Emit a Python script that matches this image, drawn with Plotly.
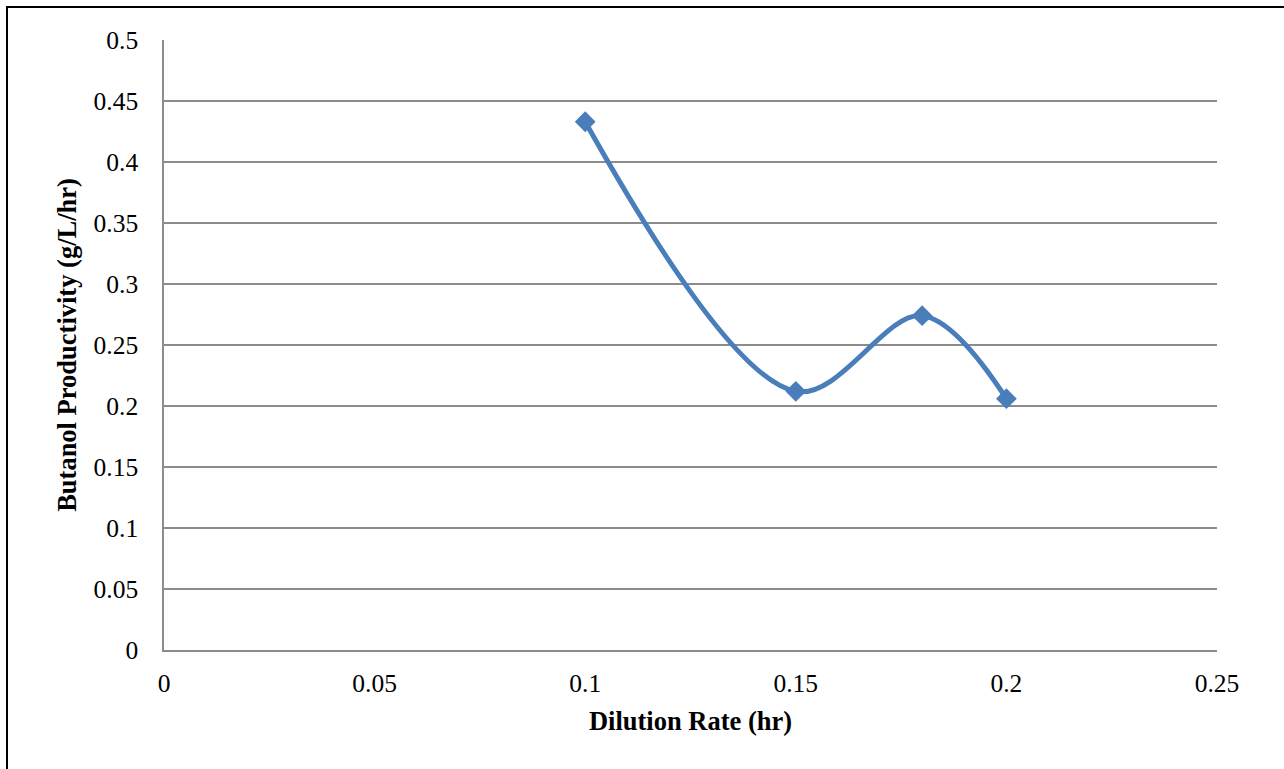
import plotly.graph_objects as go

dilution_rate = [0.1, 0.15, 0.18, 0.2]
butanol_productivity = [0.433, 0.212, 0.274, 0.206]

x_ticks = [0, 0.05, 0.1, 0.15, 0.2, 0.25]
x_tick_labels = ["0", "0.05", "0.1", "0.15", "0.2", "0.25"]
y_ticks = [0, 0.05, 0.1, 0.15, 0.2, 0.25, 0.3, 0.35, 0.4, 0.45, 0.5]
y_tick_labels = ["0", "0.05", "0.1", "0.15", "0.2", "0.25", "0.3", "0.35", "0.4", "0.45", "0.5"]

W, H = 1284, 769
L, R, T, B = 164, 67, 40, 119
pw, ph = W - L - R, H - T - B

LINE_BLUE = "#4A7EBB"
GRID = "#8C8C8C"
FONT = "Liberation Serif, Times New Roman, serif"

fig = go.Figure()
fig.add_trace(go.Scatter(
    x=dilution_rate, y=butanol_productivity,
    mode="lines+markers",
    line=dict(color=LINE_BLUE, width=5, shape="spline", smoothing=1),
    marker=dict(symbol="diamond", size=16, color=LINE_BLUE),
    showlegend=False,
))

fig.update_layout(
    width=W, height=H,
    margin=dict(l=L, r=R, t=T, b=B),
    paper_bgcolor="white", plot_bgcolor="white",
    font=dict(family=FONT, color="black", size=25.5),
    xaxis=dict(
        range=[0, 0.25], tickvals=x_ticks, ticktext=x_tick_labels,
        showgrid=False, zeroline=False,
        showline=True, linecolor=GRID, linewidth=1.5,
        ticks="outside", ticklen=10, tickcolor="rgba(0,0,0,0)",
        tickfont=dict(size=25.5, family=FONT),
        title=dict(text="<b>Dilution Rate (hr)</b>", font=dict(size=26.5, family=FONT), standoff=14),
    ),
    yaxis=dict(
        range=[0, 0.5], tickvals=y_ticks, ticktext=y_tick_labels,
        showgrid=True, gridcolor=GRID, gridwidth=1.5, zeroline=False,
        showline=True, linecolor=GRID, linewidth=1.5,
        ticks="outside", ticklen=19, tickcolor="rgba(0,0,0,0)",
        tickfont=dict(size=25.5, family=FONT),
        title=dict(text="<b>Butanol Productivity (g/L/hr)</b>", font=dict(size=26.5, family=FONT), standoff=9),
    ),
)

# outer chart frame (black border, cut off at right/bottom like the reference)
fig.add_shape(
    type="rect", xref="paper", yref="paper",
    x0=(7 - L) / pw, x1=(W + 10 - L) / pw,
    y0=(H - B - (H + 10)) / ph, y1=(H - B - 7) / ph,
    line=dict(color="black", width=2), fillcolor="rgba(0,0,0,0)", layer="above",
)

fig.write_html(
    "out.html",
    config={"displayModeBar": False},
    post_script="document.body.style.margin='0px';",
)
